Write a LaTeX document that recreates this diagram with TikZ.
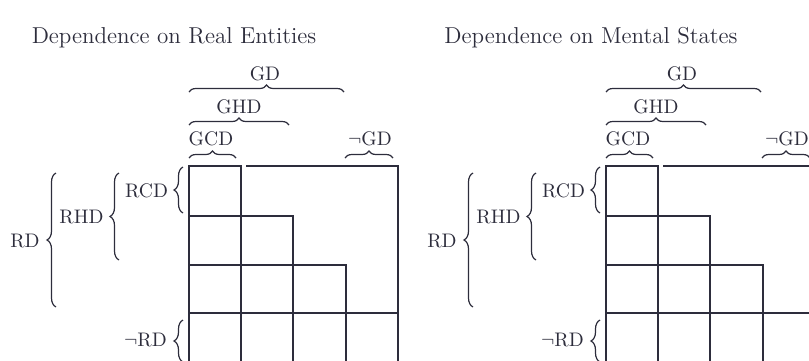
\documentclass[tikz,border=0pt]{standalone}
\usetikzlibrary{decorations.pathreplacing}
\definecolor{ink}{RGB}{45,45,60}
\begin{document}
\begin{tikzpicture}[x=0.5pt,y=-0.5pt,
  grid/.style={draw=ink,line width=0.8pt},
  brc/.style={draw=ink,line width=0.6pt,decorate,decoration={brace,amplitude=3.5pt}},
  sbrc/.style={draw=ink,line width=0.6pt,decorate,decoration={brace,amplitude=4.5pt}},
  lbl/.style={text=ink,font=\fontsize{9.8}{12}\selectfont,inner sep=0pt},
  ttl/.style={text=ink,font=\fontsize{11.5}{14}\selectfont,inner sep=0pt}]
\useasboundingbox (0,0) rectangle (809,360);
\clip (0,0) rectangle (809,360);
\foreach \dx/\t in {0/Real Entities,417/Mental States}{
\begin{scope}[shift={(\dx,0)}]
  \node[ttl,anchor=base] (title\dx) at (174,43) {Dependence on \t};
  % grid
  \draw[grid] (189,375) -- (189,166) -- (241,166) -- (241,375);
  \draw[grid] (246,166) -- (398,166) -- (398,375);
  \draw[grid] (189,216) -- (293,216) -- (293,375);
  \draw[grid] (189,265) -- (346,265) -- (346,375);
  \draw[grid] (189,313) -- (398,313);
  % top braces
  \draw[brc] (189,92) -- (344,92);
  \node[lbl,anchor=base] (gd\dx) at (265,80) {GD};
  \draw[brc] (189,125) -- (289,125);
  \node[lbl,anchor=base] (ghd\dx) at (239,113) {GHD};
  \draw[brc] (189,158) -- (236,158);
  \node[lbl,anchor=base] (gcd\dx) at (211,145) {GCD};
  \draw[brc] (345,158) -- (393,158);
  \node[lbl,anchor=base] (ngd\dx) at (370,145) {$\neg$GD};
  % side braces
  \draw[sbrc] (56,307) -- (56,173);
  \node[lbl,anchor=base] (rd\dx) at (25,247) {RD};
  \draw[sbrc] (119,260) -- (119,173);
  \node[lbl,anchor=base] (rhd\dx) at (81.5,223) {RHD};
  \draw[sbrc] (183,213) -- (183,167);
  \node[lbl,anchor=base] (rcd\dx) at (146.5,197) {RCD};
  \draw[sbrc] (183,362) -- (183,320);
  \node[lbl,anchor=base] (nrd\dx) at (145.5,346) {$\neg$RD};
\end{scope}
}
\end{tikzpicture}
\end{document}
